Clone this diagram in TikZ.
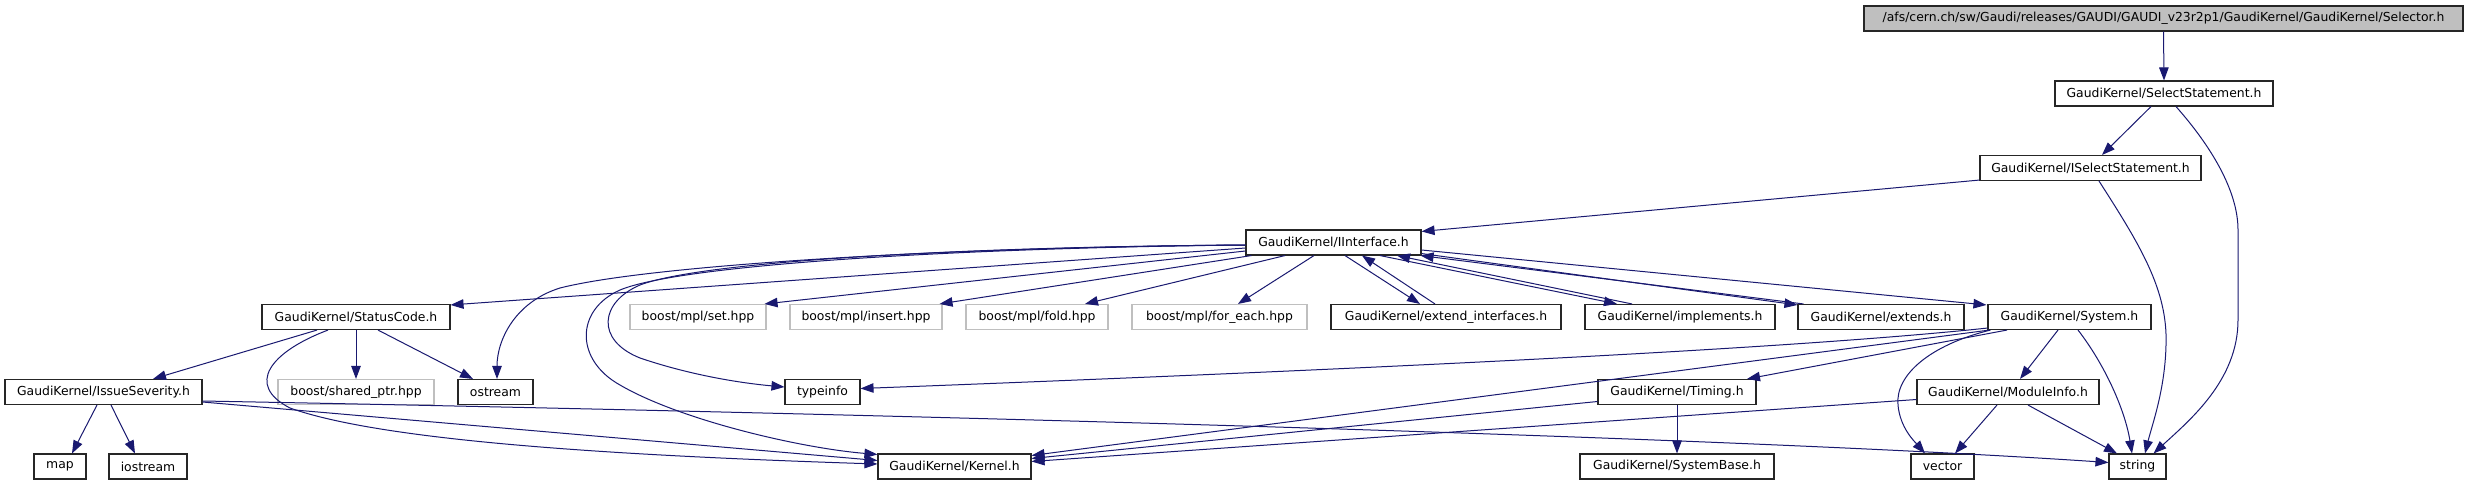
\documentclass[tikz,border=0pt]{standalone}
\usepackage{fontspec}
\setmainfont{DejaVu Sans}
\usetikzlibrary{arrows.meta,calc}
\definecolor{edgeblue}{HTML}{191970}
\definecolor{grayfill}{HTML}{BFBFBF}
\begin{document}
\begin{tikzpicture}[x=1pt,y=-1pt,
  fbox/.style={draw=black!85, line width=1.1pt, fill=white, inner sep=0pt, minimum height=25pt,
    font=\fontsize{12.4}{14}\selectfont, text=black},
  gbox/.style={fbox, draw=grayfill},
  link/.style={draw=edgeblue, line width=1pt, -{Triangle[length=13pt,width=9.5pt]}}]
\fill[white] (0,0) rectangle (2468,485);
\useasboundingbox (0,0) rectangle (2468,485);
% row 0-3
\node[fbox, fill=grayfill, minimum width=599pt] (selector) at (2163.5,18.5) {/afs/cern.ch/sw/Gaudi/releases/GAUDI/GAUDI\_v23r2p1/GaudiKernel/GaudiKernel/Selector.h};
\node[fbox, minimum width=218pt] (selstmt) at (2164,93.5) {GaudiKernel/SelectStatement.h};
\node[fbox, minimum width=221pt] (iselstmt) at (2090.5,168) {GaudiKernel/ISelectStatement.h};
\node[fbox, minimum width=175pt] (iinterface) at (1333.5,242.5) {GaudiKernel/IInterface.h};
% row 4
\node[fbox, minimum width=188pt] (statuscode) at (356,317) {GaudiKernel/StatusCode.h};
\node[gbox, minimum width=136pt] (mplset) at (698,317) {boost/mpl/set.hpp};
\node[gbox, minimum width=152pt] (mplinsert) at (866,317) {boost/mpl/insert.hpp};
\node[gbox, minimum width=142pt] (mplfold) at (1037,317) {boost/mpl/fold.hpp};
\node[gbox, minimum width=175pt] (mplforeach) at (1219.5,317) {boost/mpl/for\_each.hpp};
\node[fbox, minimum width=230pt] (extendif) at (1446,317) {GaudiKernel/extend\_interfaces.h};
\node[fbox, minimum width=190pt] (implements) at (1680,317) {GaudiKernel/implements.h};
\node[fbox, minimum width=166pt] (extends) at (1881,317) {GaudiKernel/extends.h};
\node[fbox, minimum width=163pt] (system) at (2069.5,317) {GaudiKernel/System.h};
% row 5
\node[fbox, minimum width=197pt] (issuesev) at (103.5,392) {GaudiKernel/IssueSeverity.h};
\node[gbox, minimum width=156pt] (sharedptr) at (356,392) {boost/shared\_ptr.hpp};
\node[fbox, minimum width=75pt] (ostream) at (495.5,392) {ostream};
\node[fbox, minimum width=75pt] (typeinfo) at (822.5,392) {typeinfo};
\node[fbox, minimum width=158pt] (timing) at (1677,392) {GaudiKernel/Timing.h};
\node[fbox, minimum width=182pt] (moduleinfo) at (2008,392) {GaudiKernel/ModuleInfo.h};
% row 6
\node[fbox, minimum width=52pt] (map) at (60,466.5) {map};
\node[fbox, minimum width=78pt] (iostream) at (148,466.5) {iostream};
\node[fbox, minimum width=153pt] (kernel) at (954.5,466.5) {GaudiKernel/Kernel.h};
\node[fbox, minimum width=194pt] (systembase) at (1677,466.5) {GaudiKernel/SystemBase.h};
\node[fbox, minimum width=63pt] (vector) at (1942.5,466.5) {vector};
\node[fbox, minimum width=57pt] (string) at (2137.5,466.5) {string};

% edges
\draw[link] (selector.south) -- (selstmt.north);
\draw[link] ($(selstmt.south)+(-13,0)$) -- ($(iselstmt.north)+(11.5,0)$);
\draw[link] ($(selstmt.south)+(12,0)$) .. controls (2210,145) and (2238,190) .. (2238,230) -- (2238,320) .. controls (2238,380) and (2190,420) .. ($(string.north)+(16,0)$);
\draw[link] ($(iselstmt.south)+(8.5,0)$) .. controls (2140,245) and (2168,290) .. (2166,345) .. controls (2165,390) and (2152,425) .. ($(string.north)+(7.5,0)$);
\draw[link] ($(iselstmt.south west)+(0,-1)$) -- ($(iinterface.north east)+(0,2)$);

\draw[link] ($(iinterface.west)+(0,5.5)$) -- ($(statuscode.north east)+(0,1)$);
\draw[link] ($(iinterface.west)+(0,8.5)$) -- ($(mplset.north east)+(-2,0)$);
\draw[link] ($(iinterface.south west)+(6,0)$) -- ($(mplinsert.north east)+(-3,0)$);
\draw[link] ($(iinterface.south)+(-48.5,0)$) -- ($(mplfold.north)+(48,0)$);
\draw[link] ($(iinterface.south)+(-19.5,0)$) -- ($(mplforeach.north)+(18.5,0)$);
\draw[link] ($(iinterface.south)+(11.5,0)$) -- ($(extendif.north)+(-26,0)$);
\draw[link] ($(extendif.north)+(-11,0)$) -- ($(iinterface.south)+(28.5,0)$);
\draw[link] ($(iinterface.south)+(46.5,0)$) -- ($(implements.north)+(-63,0)$);
\draw[link] ($(implements.north)+(-48,0)$) -- ($(iinterface.south)+(63.5,0)$);
\draw[link] ($(iinterface.south east)+(0,-2)$) -- ($(extends.north west)+(0,1)$);
\draw[link] ($(extends.north west)+(6,0)$) -- ($(iinterface.south east)+(-1,0)$);
\draw[link] ($(iinterface.east)+(0,7.5)$) -- ($(system.north west)+(-1,1)$);
\draw[link] ($(iinterface.west)+(0,2.5)$) .. controls (950,247) and (650,265) .. (560,288) .. controls (515,302) and (497,340) .. ($(ostream.north)+(1.5,0)$);
\draw[link] ($(iinterface.west)+(0,2.5)$) .. controls (950,247) and (700,262) .. (640,285) .. controls (600,302) and (595,340) .. (640,358) .. controls (690,375) and (740,383) .. ($(typeinfo.west)+(0,-5)$);
\draw[link] ($(iinterface.west)+(0,2.5)$) .. controls (950,248) and (680,265) .. (620,290) .. controls (575,310) and (575,360) .. (620,385) .. controls (680,420) and (800,448) .. ($(kernel.north west)+(0,1)$);

\draw[link] ($(statuscode.south)+(-39,0)$) -- ($(issuesev.north)+(49.5,0)$);
\draw[link] (statuscode.south) -- (sharedptr.north);
\draw[link] ($(statuscode.south)+(22,0)$) -- ($(ostream.north)+(-22.5,0)$);
\draw[link] ($(statuscode.south)+(-28,0)$) .. controls (270,352) and (245,385) .. (290,408) .. controls (380,440) and (600,455) .. ($(kernel.west)+(0,-2.5)$);

\draw[link] ($(issuesev.south)+(-6.5,0)$) -- ($(map.north)+(12,0)$);
\draw[link] ($(issuesev.south)+(7.5,0)$) -- ($(iostream.north)+(-13,0)$);
\draw[link] ($(issuesev.east)+(0,10)$) -- ($(kernel.west)+(0,-6)$);
\draw[link] ($(issuesev.east)+(0,9)$) .. controls (800,412) and (1700,435) .. ($(string.west)+(0,-4)$);

\draw[link] ($(system.south west)+(0,-2)$) .. controls (1800,348) and (1400,368) .. ($(typeinfo.east)+(0,-3.5)$);
\draw[link] ($(system.south west)+(2,0)$) -- ($(kernel.east)+(0,-11)$);
\draw[link] ($(system.south)+(-62.5,0)$) -- ($(timing.north)+(70,0)$);
\draw[link] ($(system.south)+(-11.5,0)$) -- ($(moduleinfo.north)+(12,0)$);
\draw[link] ($(system.south west)+(3,0)$) .. controls (1930,345) and (1895,375) .. (1898,405) .. controls (1900,428) and (1915,442) .. ($(vector.north)+(-17.5,0)$);
\draw[link] ($(system.south)+(8.5,0)$) .. controls (2105,365) and (2125,410) .. ($(string.north)+(-5.5,0)$);

\draw[link] (timing.south) -- (systembase.north);
\draw[link] ($(timing.west)+(0,9.5)$) -- ($(kernel.east)+(0,-8)$);

\draw[link] ($(moduleinfo.west)+(0,7.5)$) -- ($(kernel.east)+(0,-5)$);
\draw[link] ($(moduleinfo.south)+(-11,0)$) -- ($(vector.north)+(12.5,0)$);
\draw[link] ($(moduleinfo.south)+(20,0)$) -- ($(string.north)+(-20.5,0)$);
\end{tikzpicture}
\end{document}
